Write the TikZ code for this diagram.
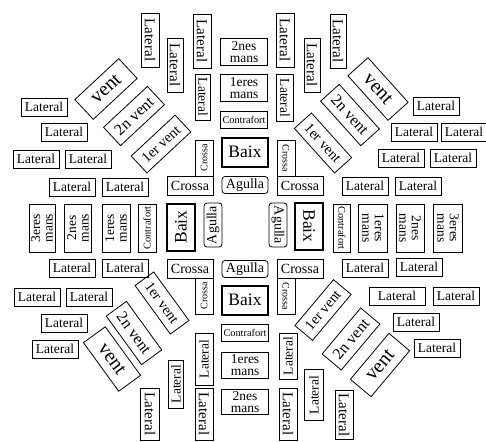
\documentclass[tikz,border=0pt]{standalone}
\usepackage{fontspec}
\setmainfont{Liberation Serif}
\newcommand{\fsz}[1]{\fontsize{#1}{#1}\selectfont}
\tikzset{
  tag/.style={draw, line width=0.8pt, inner sep=0pt, font=\fsz{13.5}},
  lat/.style={tag, minimum width=46pt, minimum height=18pt},
  vlat/.style={tag, rotate=-90, minimum width=54pt, minimum height=18pt, font=\fsz{15}},
  ulat/.style={tag, rotate=90, minimum width=50pt, minimum height=16pt, font=\fsz{13.5}},
  wind/.style={tag, minimum width=60pt, minimum height=25pt},
  mans/.style={tag, align=center, font=\fontsize{13.5}{12.5}\selectfont, minimum width=47pt, minimum height=27pt},
  contra/.style={tag, font=\fsz{10.3}, minimum width=47pt, minimum height=17pt},
  baix/.style={tag, line width=2pt, font=\fsz{17.5}, minimum width=46pt, minimum height=29pt},
  agulla/.style={tag, rounded corners=3pt, font=\fsz{14}, minimum width=46pt, minimum height=17pt},
  crossa/.style={tag, font=\fsz{14}, minimum width=46pt, minimum height=19pt},
  scrossa/.style={tag, font=\fsz{10}, minimum width=36pt, minimum height=18pt},
}
\begin{document}
\begin{tikzpicture}[x=1pt, y=-1pt]
    \useasboundingbox (0,0) rectangle (486,441);
    % centre
    \node[mans] (t2) at (244,52) {2nes\\mans};
    \node[mans] (t1) at (244,88) {1eres\\mans};
    \node[contra] (tc) at (244,120) {Contrafort};
    \node[baix] (tb) at (245,152) {Baix};
    \node[agulla] (ta) at (245,185) {Agulla};
    \node[crossa] (tlc) at (190,186) {Crossa};
    \node[scrossa, rotate=90] (tlcv) at (204,158) {Crossa};
    \node[crossa] (trc) at (300,186) {Crossa};
    \node[scrossa, rotate=-90] (trcv) at (286,158) {Crossa};
    \node[mans, rotate=90, minimum width=48pt, minimum height=26pt] (l3) at (42,228) {3eres\\mans};
    \node[mans, rotate=90, minimum width=48pt, minimum height=27pt] (l2) at (78,228) {2nes\\mans};
    \node[mans, rotate=90, minimum width=48pt, minimum height=28pt] (l1) at (116,228) {1eres\\mans};
    \node[contra, rotate=90, minimum width=48pt, minimum height=18pt] (lc) at (147,228) {Contrafort};
    \node[baix, rotate=90, minimum width=47pt, minimum height=28pt] (lb) at (181,227) {Baix};
    \node[agulla, rotate=90, minimum width=44pt, minimum height=18pt] (la) at (213,225) {Agulla};
    \node[agulla, rotate=-90, minimum width=44pt, minimum height=18pt] (ra) at (278,225) {Agulla};
    \node[baix, rotate=-90, minimum width=47pt, minimum height=28pt] (rb) at (309,226) {Baix};
    \node[contra, rotate=-90, minimum width=48pt, minimum height=17pt] (rc) at (342,228) {Contrafort};
    \node[mans, rotate=-90, minimum width=48pt, minimum height=29pt] (r1) at (373,228) {1eres\\mans};
    \node[mans, rotate=-90, minimum width=48pt, minimum height=28pt] (r2) at (410,228) {2nes\\mans};
    \node[mans, rotate=-90, minimum width=48pt, minimum height=29pt] (r3) at (448,228) {3eres\\mans};
    \node[crossa] (blc) at (190,269) {Crossa};
    \node[scrossa, rotate=90] (blcv) at (204,296) {Crossa};
    \node[agulla] (ba) at (245,269) {Agulla};
    \node[crossa] (brc) at (300,269) {Crossa};
    \node[scrossa, rotate=-90] (brcv) at (286,296) {Crossa};
    \node[baix] (bb) at (245,300) {Baix};
    \node[contra] (bc) at (245,333) {Contrafort};
    \node[mans, minimum height=26pt] (b1) at (245,365) {1eres\\mans};
    \node[mans, minimum height=25pt] (b2) at (245,402) {2nes\\mans};
    % top laterals
    \node[vlat] (tv1) at (150,40) {Lateral};
    \node[vlat, minimum height=16pt] (tv2) at (175,65) {Lateral};
    \node[vlat] (tv3) at (202,41) {Lateral};
    \node[vlat, minimum width=46pt, minimum height=15pt, font=\fsz{13.5}] (tv4) at (203,97) {Lateral};
    \node[vlat] (tv5) at (285,40) {Lateral};
    \node[vlat, minimum height=16pt] (tv6) at (312,65) {Lateral};
    \node[vlat, minimum height=16pt] (tv7) at (338,41) {Lateral};
    \node[vlat, minimum width=47pt, minimum height=17pt, font=\fsz{13.5}] (tv8) at (285,98) {Lateral};
    % bottom laterals
    \node[ulat, minimum width=52pt, minimum height=18pt] (bv1) at (204,359) {Lateral};
    \node[ulat, minimum width=48pt, minimum height=15pt] (bv2) at (176,384) {Lateral};
    \node[vlat, minimum width=52pt, minimum height=19pt] (bv3) at (150,414) {Lateral};
    \node[vlat, minimum width=52pt] (bv4) at (204,414) {Lateral};
    \node[ulat, minimum width=46pt, minimum height=18pt] (bv5) at (288,356) {Lateral};
    \node[ulat, minimum width=51pt, minimum height=19pt] (bv6) at (314,395) {Lateral};
    \node[vlat, minimum width=49pt] (bv7) at (344,415) {Lateral};
    \node[vlat, minimum width=52pt] (bv8) at (288,414) {Lateral};
    % side laterals
    \node[lat] (tl1) at (44,107) {Lateral};
    \node[lat] (tl2) at (64,132) {Lateral};
    \node[lat] (tl3) at (36,159) {Lateral};
    \node[lat] (tl4) at (88,159) {Lateral};
    \node[lat] (tl5) at (72,187) {Lateral};
    \node[lat] (tl6) at (125,187) {Lateral};
    \node[lat] (tr1) at (436,106) {Lateral};
    \node[lat] (tr2) at (414,132) {Lateral};
    \node[lat] (tr3) at (464,132) {Lateral};
    \node[lat] (tr4) at (401,158) {Lateral};
    \node[lat] (tr5) at (453,158) {Lateral};
    \node[lat] (tr6) at (365,186) {Lateral};
    \node[lat] (tr7) at (418,186) {Lateral};
    \node[lat] (bl1) at (72,268) {Lateral};
    \node[lat] (bl2) at (125,268) {Lateral};
    \node[lat] (bl3) at (37,297) {Lateral};
    \node[lat] (bl4) at (89,297) {Lateral};
    \node[lat] (bl5) at (64,323) {Lateral};
    \node[lat] (bl6) at (55,349) {Lateral};
    \node[lat] (br1) at (365,268) {Lateral};
    \node[lat] (br2) at (419,267) {Lateral};
    \node[lat, minimum width=56pt] (br3) at (397,296) {Lateral};
    \node[lat] (br4) at (456,296) {Lateral};
    \node[lat] (br5) at (416,322) {Lateral};
    \node[lat] (br6) at (437,348) {Lateral};
    % winds
    \node[wind, rotate=43, minimum height=27pt, font=\fsz{20}] (tlw3) at (106,89) {vent};
    \node[wind, rotate=43, font=\fsz{16}] (tlw2) at (134,116) {2n vent};
    \node[wind, rotate=43, minimum height=23pt, font=\fsz{14.5}] (tlw1) at (161,144) {1er vent};
    \node[wind, rotate=-48, minimum height=27pt, font=\fsz{20}] (trw3) at (378,89) {vent};
    \node[wind, rotate=-48, font=\fsz{16}] (trw2) at (350,115) {2n vent};
    \node[wind, rotate=-48, minimum height=23pt, font=\fsz{14.5}] (trw1) at (323,143) {1er vent};
    \node[wind, rotate=-54, minimum height=27pt, font=\fsz{20}] (blw3) at (112,359) {vent};
    \node[wind, rotate=-54, font=\fsz{16}] (blw2) at (134,333) {2n vent};
    \node[wind, rotate=-54, minimum height=23pt, font=\fsz{14.5}] (blw1) at (162,303) {1er vent};
    \node[wind, rotate=50, minimum height=27pt, font=\fsz{20}] (brw3) at (380,365) {vent};
    \node[wind, rotate=50, font=\fsz{16}] (brw2) at (351,339) {2n vent};
    \node[wind, rotate=50, minimum height=23pt, font=\fsz{14.5}] (brw1) at (323,310) {1er vent};
\end{tikzpicture}
\end{document}
